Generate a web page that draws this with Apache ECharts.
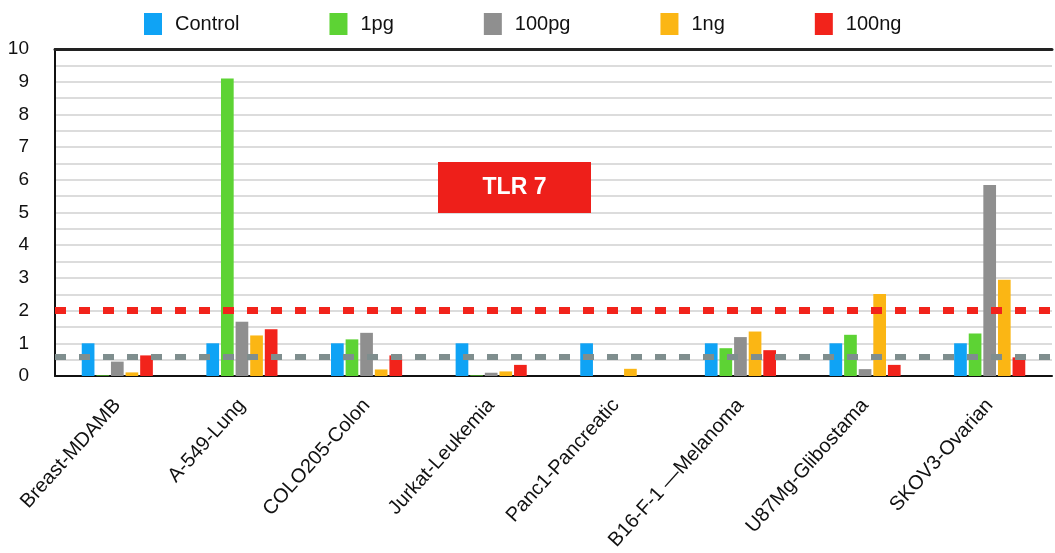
<!DOCTYPE html>
<html>
<head>
<meta charset="utf-8">
<script src="https://cdn.jsdelivr.net/npm/echarts@6/dist/echarts.min.js"></script>
<style>
  html, body { margin: 0; padding: 0; background: #fff; }
  #chart { width: 1055px; height: 553px; }
</style>
</head>
<body>
<div id="chart"></div>
<script>
// data
const cellLines = ['Breast-MDAMB', 'A-549-Lung', 'COLO205-Colon', 'Jurkat-Leukemia', 'Panc1-Pancreatic', 'B16-F-1 —Melanoma', 'U87Mg-Glibostama', 'SKOV3-Ovarian'];
const seriesNames = ['Control', '1pg', '100pg', '1ng', '100ng'];
const control = [1, 1, 1, 1, 1, 1, 1, 1];
const pg1 = [0.02, 9.1, 1.12, 0.02, 0, 0.85, 1.26, 1.3];
const pg100 = [0.44, 1.66, 1.32, 0.1, 0, 1.19, 0.21, 5.84];
const ng1 = [0.11, 1.24, 0.2, 0.14, 0.22, 1.36, 2.51, 2.94];
const ng100 = [0.63, 1.43, 0.63, 0.34, 0, 0.79, 0.34, 0.57];
const redLine = 2;
const greyLine = 0.6;

const colors = ['#0fa3f5', '#5dd334', '#8f8f8f', '#fbb614', '#f2231b'];
const values = [control, pg1, pg100, ng1, ng100];

let chart = echarts.init(document.getElementById('chart'));

let series = seriesNames.map((name, i) => {
  let s = {
    name: name,
    type: 'bar',
    data: values[i],
    barWidth: 12.7,
    barGap: '15%',
    itemStyle: { color: colors[i] }
  };
  if (i == 0) {
    // 参考线
    s.markLine = {
      silent: true,
      symbol: 'none',
      z: 10,
      label: { show: false },
      data: [
        { yAxis: redLine, lineStyle: { color: '#f2231b', width: 7, type: [11, 13] } },
        { yAxis: greyLine, lineStyle: { color: '#7f8e8e', width: 6, type: [11, 13] } }
      ]
    };
  }
  return s;
});

let option = {
  animation: false,
  textStyle: { fontFamily: 'Liberation Sans, Arial, sans-serif' },
  legend: {
    data: seriesNames,
    left: 139,
    top: 8,
    itemWidth: 18,
    itemHeight: 22,
    itemGap: 90,
    icon: 'rect',
    textStyle: { fontSize: 20, color: '#111', padding: [0, 0, 0, 8] }
  },
  grid: {
    left: 55,
    right: 3,
    top: 49,
    bottom: 177
  },
  xAxis: [
    {
      type: 'category',
      data: cellLines,
      axisLine: { lineStyle: { color: '#111', width: 2 } },
      axisTick: { show: false },
      axisLabel: {
        interval: 0,
        rotate: 48,
        fontSize: 20,
        color: '#111',
        margin: 26
      }
    },
    {
      type: 'category',
      position: 'top',
      data: cellLines,
      axisLine: { show: true, lineStyle: { color: '#222', width: 3 } },
      axisTick: { show: false },
      axisLabel: { show: false }
    }
  ],
  yAxis: {
    type: 'value',
    min: 0,
    max: 10,
    interval: 1,
    axisLine: { show: true, lineStyle: { color: '#111', width: 2 } },
    axisTick: { show: false },
    axisLabel: { fontSize: 19, color: '#111', margin: 26 },
    splitLine: { lineStyle: { color: '#dcdcdc', width: 2 } },
    minorTick: { show: false, splitNumber: 2 },
    minorSplitLine: { show: true, lineStyle: { color: '#dcdcdc', width: 2 } }
  },
  graphic: [
    {
      type: 'group',
      left: 438,
      top: 162,
      z: 100,
      children: [
        { type: 'rect', z: 100, shape: { x: 0, y: 0, width: 153, height: 51 }, style: { fill: '#ee1f1a' } },
        {
          type: 'text',
          z: 101,
          x: 76.5,
          y: 25.5,
          style: { text: 'TLR 7', fill: '#fff', fontSize: 23, fontWeight: 'bold', align: 'center', verticalAlign: 'middle', fontFamily: 'Liberation Sans, Arial, sans-serif' }
        }
      ]
    }
  ],
  series: series
};

chart.setOption(option, true);
</script>
</body>
</html>
